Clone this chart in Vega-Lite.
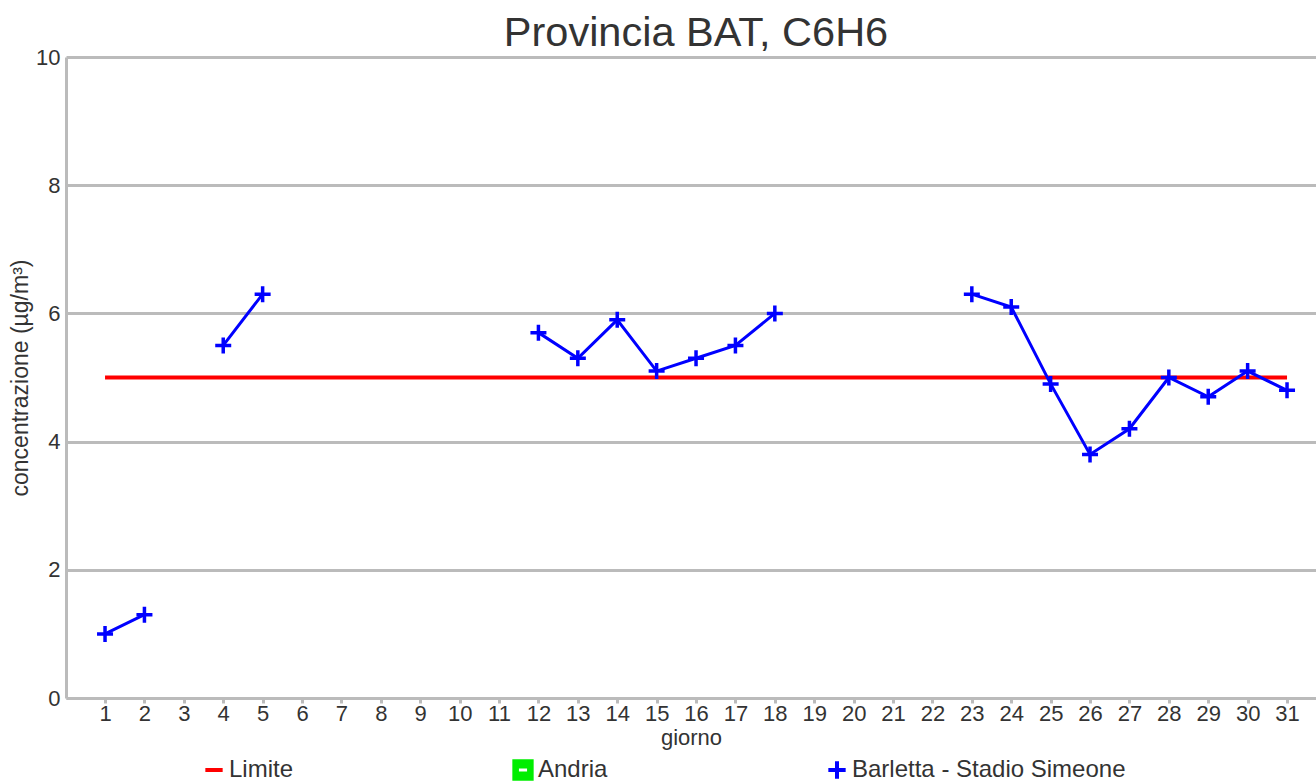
{
  "$schema": "https://vega.github.io/schema/vega-lite/v6.json",
  "autosize": {"type": "none"},
  "padding": {"left": 66, "top": 57, "right": 0, "bottom": 85},
  "width": 1250,
  "height": 641,
  "background": "white",
  "config": {"font": "Liberation Sans", "view": {"stroke": null}},
  "title": {"text": "Provincia BAT, C6H6", "fontSize": 41.5, "fontWeight": "normal", "color": "#333333", "offset": -8, "dx": 5},
  "datasets": {
    "barletta": [
      {"giorno": 1, "valore": 1.0, "serie": "Barletta - Stadio Simeone"},
      {"giorno": 2, "valore": 1.3, "serie": "Barletta - Stadio Simeone"},
      {"giorno": 3, "valore": null, "serie": "Barletta - Stadio Simeone"},
      {"giorno": 4, "valore": 5.5, "serie": "Barletta - Stadio Simeone"},
      {"giorno": 5, "valore": 6.3, "serie": "Barletta - Stadio Simeone"},
      {"giorno": 6, "valore": null, "serie": "Barletta - Stadio Simeone"},
      {"giorno": 7, "valore": null, "serie": "Barletta - Stadio Simeone"},
      {"giorno": 8, "valore": null, "serie": "Barletta - Stadio Simeone"},
      {"giorno": 9, "valore": null, "serie": "Barletta - Stadio Simeone"},
      {"giorno": 10, "valore": null, "serie": "Barletta - Stadio Simeone"},
      {"giorno": 11, "valore": null, "serie": "Barletta - Stadio Simeone"},
      {"giorno": 12, "valore": 5.7, "serie": "Barletta - Stadio Simeone"},
      {"giorno": 13, "valore": 5.3, "serie": "Barletta - Stadio Simeone"},
      {"giorno": 14, "valore": 5.9, "serie": "Barletta - Stadio Simeone"},
      {"giorno": 15, "valore": 5.1, "serie": "Barletta - Stadio Simeone"},
      {"giorno": 16, "valore": 5.3, "serie": "Barletta - Stadio Simeone"},
      {"giorno": 17, "valore": 5.5, "serie": "Barletta - Stadio Simeone"},
      {"giorno": 18, "valore": 6.0, "serie": "Barletta - Stadio Simeone"},
      {"giorno": 19, "valore": null, "serie": "Barletta - Stadio Simeone"},
      {"giorno": 20, "valore": null, "serie": "Barletta - Stadio Simeone"},
      {"giorno": 21, "valore": null, "serie": "Barletta - Stadio Simeone"},
      {"giorno": 22, "valore": null, "serie": "Barletta - Stadio Simeone"},
      {"giorno": 23, "valore": 6.3, "serie": "Barletta - Stadio Simeone"},
      {"giorno": 24, "valore": 6.1, "serie": "Barletta - Stadio Simeone"},
      {"giorno": 25, "valore": 4.9, "serie": "Barletta - Stadio Simeone"},
      {"giorno": 26, "valore": 3.8, "serie": "Barletta - Stadio Simeone"},
      {"giorno": 27, "valore": 4.2, "serie": "Barletta - Stadio Simeone"},
      {"giorno": 28, "valore": 5.0, "serie": "Barletta - Stadio Simeone"},
      {"giorno": 29, "valore": 4.7, "serie": "Barletta - Stadio Simeone"},
      {"giorno": 30, "valore": 5.1, "serie": "Barletta - Stadio Simeone"},
      {"giorno": 31, "valore": 4.8, "serie": "Barletta - Stadio Simeone"}
    ],
    "limite": [
      {"giorno": 1, "valore": 5, "serie": "Limite"},
      {"giorno": 31, "valore": 5, "serie": "Limite"}
    ]
  },
  "encoding": {
    "x": {
      "field": "giorno",
      "type": "ordinal",
      "scale": {"type": "point", "domain": [1,2,3,4,5,6,7,8,9,10,11,12,13,14,15,16,17,18,19,20,21,22,23,24,25,26,27,28,29,30,31], "padding": 0.863, "align": 0.574},
      "axis": {
        "title": "giorno",
        "titleFontSize": 22,
        "titleFontWeight": "normal",
        "titleColor": "#333333",
        "titlePadding": 3,
        "labelAngle": 0,
        "labelFontSize": 22,
        "labelColor": "#333333",
        "labelPadding": 0,
        "domainColor": "#bbbbbb",
        "domainWidth": 3,
        "tickColor": "#bbbbbb",
        "tickWidth": 3,
        "tickSize": 5,
        "grid": false
      }
    },
    "y": {
      "field": "valore",
      "type": "quantitative",
      "scale": {"domain": [0, 10], "nice": false},
      "axis": {
        "title": "concentrazione (µg/m³)",
        "values": [0, 2, 4, 6, 8, 10],
        "grid": true,
        "gridColor": "#bbbbbb",
        "gridWidth": 3,
        "domainColor": "#bbbbbb",
        "domainWidth": 3,
        "ticks": false,
        "labelFontSize": 22,
        "labelColor": "#333333",
        "labelPadding": 6,
        "titleFontSize": 23,
        "titleFontWeight": "normal",
        "titleColor": "#333333",
        "titlePadding": 3
      }
    }
  },
  "layer": [
    {
      "data": {"name": "limite"},
      "mark": {"type": "line", "color": "#ff0000", "strokeWidth": 4},
      "encoding": {}
    },
    {
      "data": {"name": "barletta"},
      "mark": {"type": "line", "color": "#0000ff", "strokeWidth": 3, "invalid": "break-paths-filter-domains"},
      "encoding": {}
    },
    {
      "data": {"name": "barletta"},
      "mark": {"type": "point", "filled": true, "strokeWidth": 3.5, "opacity": 1, "size": 256},
      "encoding": {
        "color": {
          "field": "serie",
          "type": "nominal",
          "scale": {"domain": ["Limite", "Andria", "Barletta - Stadio Simeone"], "range": ["#ff0000", "#00ee00", "#0000ff"]},
          "legend": {"title": null, "orient": "none", "legendX": 136, "legendY": 701, "direction": "horizontal", "gridAlign": "none", "labelFontSize": 24, "labelColor": "#333333", "labelLimit": 500, "symbolSize": 300, "symbolStrokeWidth": 4, "symbolOpacity": 1, "columnPadding": 212, "labelOffset": 3}
        },
        "stroke": {
          "field": "serie",
          "type": "nominal",
          "scale": {"domain": ["Limite", "Andria", "Barletta - Stadio Simeone"], "range": ["#ff0000", "#00ee00", "#0000ff"]},
          "legend": {"title": null, "orient": "none", "legendX": 136, "legendY": 701, "direction": "horizontal", "gridAlign": "none", "labelFontSize": 24, "labelColor": "#333333", "labelLimit": 500, "symbolSize": 300, "symbolStrokeWidth": 4, "symbolOpacity": 1, "columnPadding": 212, "labelOffset": 3}
        },
        "shape": {
          "field": "serie",
          "type": "nominal",
          "scale": {"domain": ["Limite", "Andria", "Barletta - Stadio Simeone"], "range": ["M-1,0H1", "M-1,-1H1V1H-1ZM-0.7,-0.4V0.4H0.7V-0.4Z", "M-1,0H1M0,-1V1"]},
          "legend": {"title": null, "orient": "none", "legendX": 136, "legendY": 701, "direction": "horizontal", "gridAlign": "none", "labelFontSize": 24, "labelColor": "#333333", "labelLimit": 500, "symbolSize": 300, "symbolStrokeWidth": 4, "symbolOpacity": 1, "columnPadding": 212, "labelOffset": 3}
        }
      }
    }
  ]
}
